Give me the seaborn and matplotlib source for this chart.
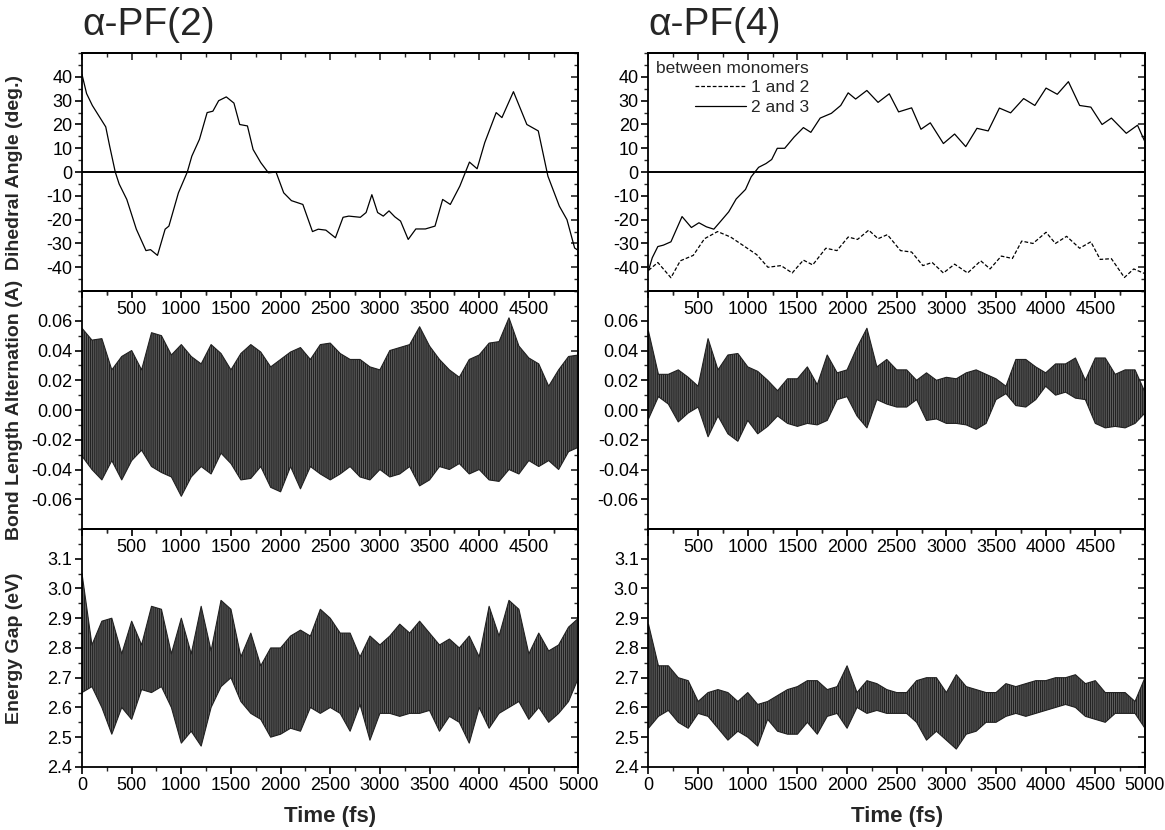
import numpy as np
import pandas as pd
import seaborn as sns
import matplotlib.pyplot as plt
from matplotlib.ticker import MultipleLocator

# -----------------------------------------------------------------------------
# DATA
# -----------------------------------------------------------------------------
# dihedral angle, alpha-PF(2)
pf2_dih_t = [0, 46, 104, 239, 278, 335, 374, 451, 547, 644, 690, 760, 837, 875, 971,
             1060, 1106, 1183, 1260, 1318, 1376, 1453, 1530, 1588, 1666, 1723, 1800,
             1877, 1954, 2031, 2109, 2224, 2321, 2379, 2456, 2552, 2629, 2687, 2803,
             2861, 2919, 2977, 3034, 3092, 3150, 3208, 3285, 3362, 3458, 3555, 3632,
             3709, 3805, 3902, 3979, 4056, 4171, 4229, 4345, 4480, 4595, 4692, 4807,
             4884, 4961, 5000]
pf2_dih = [41, 33, 28, 19, 11, 0, -5, -11.5, -24, -33, -32.6, -35, -24, -22.7, -8.7,
           0, 6.7, 13.8, 25, 25.6, 30, 31.6, 29, 20, 19.4, 9.5, 4,
           -0.3, 0, -8.7, -12, -13.6, -25, -24, -24.4, -27.6, -19, -18.5, -19,
           -17, -9.5, -17, -18.5, -16.3, -18.8, -20.6, -28.3, -23.9, -23.9, -22.7, -11.5,
           -13.6, -5.9, 4.2, 1.4, 12.4, 25, 22.9, 33.8, 20, 17.3, -1.7, -14.3,
           -20, -31.9, -33]

# dihedral angle, alpha-PF(4), monomers 2 and 3
pf4_23_t = [0, 38, 94, 150, 226, 338, 432, 508, 583, 658, 714, 808, 883, 977, 1034,
            1109, 1184, 1241, 1297, 1372, 1466, 1560, 1635, 1729, 1842, 1936, 2011,
            2086, 2199, 2312, 2425, 2519, 2650, 2744, 2838, 2970, 3083, 3195, 3308,
            3421, 3534, 3647, 3778, 3891, 4004, 4117, 4229, 4342, 4455, 4568, 4662,
            4812, 4925, 5000]
pf4_23 = [-41.3, -36, -31.3, -30.7, -29.3, -18.7, -23.3, -21.3, -23, -24, -21.3, -16.7,
          -11.3, -7.3, -2, 2, 3.6, 5.3, 10, 10, 14.7, 18.7, 16.7, 22.7, 24.7, 28, 33.3,
          30.7, 34.3, 29.3, 32.9, 25.3, 27, 18, 20.7, 12, 16, 10.7, 18.4,
          17.3, 26.9, 24.9, 30.9, 28, 35.3, 32.7, 38, 28, 27.3, 20, 22.7,
          16.3, 19.7, 12.7]

# dihedral angle, alpha-PF(4), monomers 1 and 2
pf4_12_t = [0, 94, 226, 320, 451, 564, 696, 827, 959, 1090, 1203, 1335, 1447, 1560,
            1654, 1786, 1898, 2011, 2105, 2218, 2312, 2406, 2538, 2650, 2763, 2857,
            2970, 3083, 3214, 3346, 3440, 3553, 3665, 3759, 3872, 4004, 4098, 4211,
            4342, 4455, 4549, 4662, 4793, 4887, 5000]
pf4_12 = [-41.3, -38, -44.4, -37.3, -35, -28, -25, -27.3, -31, -34.7, -40, -39.3, -42.4,
          -37, -39, -32, -33, -27.3, -28.3, -24.4, -28, -26.3, -33, -33.6, -39.3, -38,
          -42.4, -38.7, -42.4, -37.3, -40.7, -35.3, -36.3, -29, -30, -25.3, -30, -27,
          -32, -29.3, -36.7, -36.4, -44.3, -40.7, -42.7]

# fast oscillating signals: upper / lower envelope sampled every 100 fs
time_grid = np.arange(0, 5001, 100)

bla_pf2_hi = [.055, .047, .048, .027, .036, .040, .027, .052, .050, .037,
              .044, .036, .031, .044, .038, .027, .038, .044, .039, .029,
              .034, .039, .042, .034, .044, .045, .038, .034, .034, .029,
              .027, .040, .042, .044, .056, .043, .034, .027, .022, .034,
              .037, .045, .046, .062, .043, .035, .031, .016, .027, .036, .037]
bla_pf2_lo = [-.031, -.040, -.047, -.034, -.047, -.034, -.027, -.038, -.042, -.045,
              -.058, -.045, -.038, -.043, -.029, -.036, -.047, -.046, -.038, -.052,
              -.055, -.038, -.053, -.038, -.043, -.047, -.043, -.038, -.045, -.047,
              -.040, -.045, -.043, -.038, -.051, -.047, -.038, -.040, -.036, -.043,
              -.040, -.047, -.048, -.040, -.043, -.034, -.038, -.034, -.040, -.028, -.025]

bla_pf4_hi = [.053, .024, .024, .027, .022, .016, .048, .027, .037, .038,
              .029, .026, .020, .013, .021, .021, .029, .017, .037, .025,
              .027, .042, .055, .029, .034, .027, .027, .020, .025, .020,
              .022, .021, .025, .027, .024, .021, .016, .034, .034, .029,
              .025, .031, .031, .035, .020, .035, .035, .024, .027, .027, .012]
bla_pf4_lo = [-.006, .009, .004, -.008, -.002, .002, -.018, -.004, -.016, -.021,
              -.007, -.016, -.011, -.004, -.009, -.011, -.009, -.010, -.007, .007,
              .009, -.004, -.012, .007, .004, .002, .002, .007, -.007, -.006,
              -.009, -.009, -.010, -.013, -.009, .007, .011, .003, .002, .007,
              .016, .010, .012, .008, .007, -.009, -.012, -.011, -.012, -.009, -.002]

gap_pf2_hi = [3.05, 2.81, 2.89, 2.90, 2.78, 2.89, 2.81, 2.94, 2.93, 2.78,
              2.90, 2.78, 2.94, 2.79, 2.96, 2.93, 2.77, 2.85, 2.74, 2.80,
              2.80, 2.84, 2.86, 2.84, 2.93, 2.90, 2.85, 2.85, 2.77, 2.84,
              2.81, 2.84, 2.88, 2.85, 2.89, 2.85, 2.81, 2.83, 2.80, 2.84,
              2.77, 2.94, 2.84, 2.96, 2.93, 2.78, 2.85, 2.79, 2.81, 2.87, 2.90]
gap_pf2_lo = [2.65, 2.67, 2.60, 2.51, 2.60, 2.56, 2.66, 2.65, 2.67, 2.60,
              2.48, 2.52, 2.47, 2.60, 2.67, 2.70, 2.62, 2.58, 2.56, 2.50,
              2.51, 2.53, 2.52, 2.60, 2.58, 2.60, 2.58, 2.52, 2.61, 2.49,
              2.58, 2.58, 2.57, 2.58, 2.58, 2.59, 2.52, 2.57, 2.55, 2.48,
              2.60, 2.53, 2.58, 2.60, 2.62, 2.56, 2.60, 2.55, 2.58, 2.62, 2.70]

gap_pf4_hi = [2.88, 2.74, 2.74, 2.70, 2.69, 2.62, 2.65, 2.66, 2.65, 2.62,
              2.65, 2.61, 2.62, 2.64, 2.66, 2.67, 2.69, 2.69, 2.66, 2.67,
              2.74, 2.65, 2.69, 2.68, 2.66, 2.65, 2.65, 2.69, 2.70, 2.70,
              2.65, 2.71, 2.67, 2.66, 2.65, 2.65, 2.68, 2.67, 2.68, 2.69,
              2.69, 2.70, 2.70, 2.71, 2.68, 2.69, 2.65, 2.65, 2.65, 2.62, 2.70]
gap_pf4_lo = [2.53, 2.57, 2.59, 2.55, 2.53, 2.58, 2.57, 2.53, 2.49, 2.52,
              2.50, 2.47, 2.56, 2.52, 2.51, 2.51, 2.55, 2.51, 2.57, 2.58,
              2.53, 2.60, 2.58, 2.59, 2.58, 2.58, 2.58, 2.55, 2.49, 2.52,
              2.49, 2.46, 2.51, 2.52, 2.55, 2.55, 2.57, 2.58, 2.57, 2.58,
              2.59, 2.60, 2.61, 2.60, 2.57, 2.56, 2.55, 2.58, 2.58, 2.58, 2.53]

titles = ["\u03b1-PF(2)", "\u03b1-PF(4)"]
ylabels = ["Dihedral Angle (deg.)", "Bond Length Alternation (A)", "Energy Gap (eV)"]
legend_title = "between monomers"
legend_labels = ["1 and 2", "2 and 3"]
xlabel = "Time (fs)"

# -----------------------------------------------------------------------------
# STYLE
# -----------------------------------------------------------------------------
sns.set_theme(style="ticks")
plt.rcParams["font.family"] = ["Liberation Sans", "DejaVu Sans"]
plt.rcParams["hatch.color"] = "black"
plt.rcParams["hatch.linewidth"] = 0.9
plt.rcParams["axes.linewidth"] = 1.3
plt.rcParams["axes.edgecolor"] = "black"

fig, axes = plt.subplots(3, 2, figsize=(11.65, 8.3), dpi=100)
fig.subplots_adjust(left=0.0704, right=0.9828, top=0.936, bottom=0.076,
                    wspace=0.141, hspace=0.0)

row_ylim = [(-50, 50), (-0.08, 0.08), (2.4, 3.2)]
row_major = [np.arange(-40, 41, 10), np.arange(-0.06, 0.061, 0.02), np.arange(2.4, 3.11, 0.1)]
row_minor = [5, 0.01, 0.05]
row_fmt = ["{:.0f}", "{:.2f}", "{:.1f}"]
xticks = np.arange(0, 5001, 500)

# -----------------------------------------------------------------------------
# ROW 1: dihedral angles
# -----------------------------------------------------------------------------
sns.lineplot(x=pf2_dih_t, y=pf2_dih, ax=axes[0, 0], color="black", lw=0.9)
sns.lineplot(x=pf4_12_t, y=pf4_12, ax=axes[0, 1], color="black", lw=0.9,
             linestyle=(0, (3, 1.6)), label=legend_labels[0])
sns.lineplot(x=pf4_23_t, y=pf4_23, ax=axes[0, 1], color="black", lw=0.9,
             label=legend_labels[1])
for ax in axes[0]:
    ax.axhline(0, color="black", lw=1.4, zorder=1)

leg = axes[0, 1].legend(title=legend_title, loc="upper left", frameon=False,
                        alignment="right", fontsize=12.5, title_fontsize=12.5,
                        handlelength=2.9, handletextpad=0.3, borderaxespad=0.25,
                        labelspacing=0.25, borderpad=0.2)

# -----------------------------------------------------------------------------
# ROWS 2-3: fast oscillating signals drawn from their envelopes
# -----------------------------------------------------------------------------
envelopes = [
    (axes[1, 0], bla_pf2_lo, bla_pf2_hi),
    (axes[1, 1], bla_pf4_lo, bla_pf4_hi),
    (axes[2, 0], gap_pf2_lo, gap_pf2_hi),
    (axes[2, 1], gap_pf4_lo, gap_pf4_hi),
]
for ax, lo, hi in envelopes:
    ax.fill_between(time_grid, lo, hi, facecolor="#6a6a6a", edgecolor="#222222",
                    hatch="||||||||", linewidth=0.8)

# -----------------------------------------------------------------------------
# AXES FORMATTING
# -----------------------------------------------------------------------------
for r in range(3):
    for c in range(2):
        ax = axes[r, c]
        ax.set_facecolor("none")
        ax.set_xlim(0, 5000)
        ax.set_ylim(*row_ylim[r])
        ax.set_xticks(xticks)
        if r < 2:
            ax.set_xticklabels(["" if v in (0, 5000) else str(v) for v in xticks])
        else:
            ax.set_xticklabels([str(v) for v in xticks])
        ax.xaxis.set_minor_locator(MultipleLocator(250))
        ax.set_yticks(row_major[r])
        ax.set_yticklabels([row_fmt[r].format(v) for v in row_major[r]])
        ax.yaxis.set_minor_locator(MultipleLocator(row_minor[r]))
        ax.tick_params(which="major", direction="out", length=5, width=1.2,
                       labelsize=13, colors="black", pad=2)
        ax.tick_params(which="minor", direction="out", length=3, width=1.0)
        ax.set_xlabel("")
        ax.set_ylabel("")

        top = ax.secondary_xaxis("top")
        top.set_xticks(xticks)
        top.xaxis.set_minor_locator(MultipleLocator(250))
        top.tick_params(which="major", direction="in", length=5, width=1.2, labeltop=False)
        top.tick_params(which="minor", direction="in", length=3, width=1.0)
        right = ax.secondary_yaxis("right")
        right.set_yticks(row_major[r])
        right.yaxis.set_minor_locator(MultipleLocator(row_minor[r]))
        right.tick_params(which="major", direction="in", length=5, width=1.2, labelright=False)
        right.tick_params(which="minor", direction="in", length=3, width=1.0)

        if c == 0:
            ax.set_ylabel(ylabels[r], fontsize=14, fontweight="bold")
            ax.yaxis.set_label_coords(-0.118, 0.5)
        if r == 2:
            ax.set_xlabel(xlabel, fontsize=16, fontweight="bold", labelpad=9)

for c in range(2):
    axes[0, c].text(0.0, 1.075, titles[c], transform=axes[0, c].transAxes,
                    fontsize=28, va="baseline", ha="left")

plt.savefig("out.png", dpi=100)
plt.close()
